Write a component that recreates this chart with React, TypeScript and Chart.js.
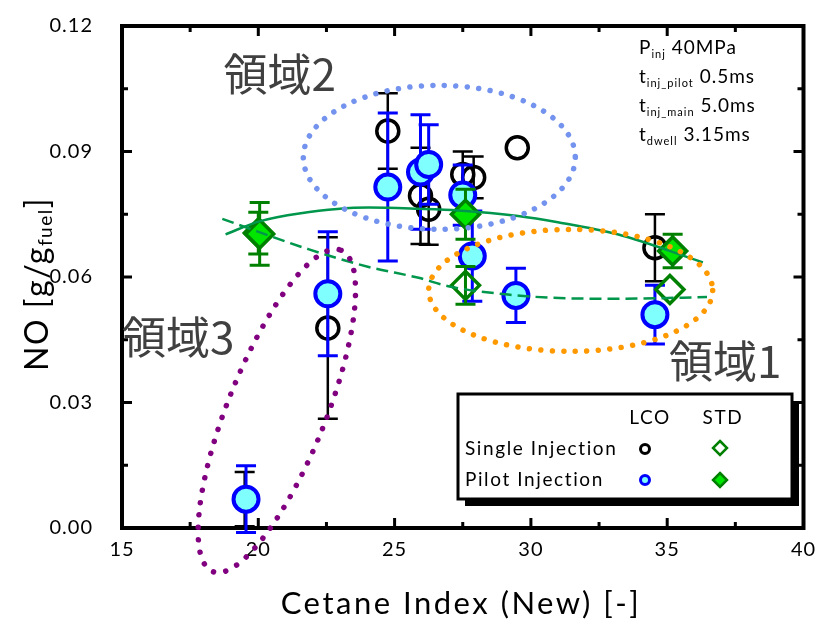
import React, { useEffect, useRef } from 'react';
import { Chart, registerables } from 'chart.js';

Chart.register(...registerables);

const FONT = 'Lato, "Open Sans", sans-serif';
const CJK = '"Noto Sans CJK JP", sans-serif';

// ---- Data ----
// Single Injection, LCO fuel (open black circles)
const singleLcoX = [19.5, 22.55, 24.75, 25.95, 26.25, 27.5, 27.9, 29.5, 34.55];
const singleLcoY = [0.0069, 0.0478, 0.0949, 0.0794, 0.0762, 0.0845, 0.0838, 0.0909, 0.067];
const singleLcoErr = [0.0065, 0.0217, 0.009, 0.0115, 0.0085, 0.0055, 0.005, 0, 0.008];

// Pilot Injection, LCO fuel (cyan circles, blue edge)
const pilotLcoX = [19.55, 22.55, 24.75, 25.95, 26.25, 27.5, 27.85, 29.45, 34.55];
const pilotLcoY = [0.0069, 0.056, 0.0815, 0.0851, 0.0869, 0.0796, 0.065, 0.0556, 0.051];
const pilotLcoErr = [0.008, 0.0148, 0.0177, 0.0137, 0.0095, 0.0072, 0.0108, 0.0065, 0.007];

// Single Injection, STD fuel (open green diamonds)
const singleStdX = [20.0, 27.6, 35.1];
const singleStdY = [0.0705, 0.058, 0.057];
const singleStdErr = [0.005, 0.0045, 0];

// Pilot Injection, STD fuel (filled green diamonds)
const pilotStdX = [20.05, 27.6, 35.2];
const pilotStdY = [0.0703, 0.075, 0.0662];
const pilotStdErr = [0.0075, 0.006, 0.004];

// Trend curves
const pilotTrendX = [18.8, 20.04, 21.5, 24.05, 25.88, 27.34, 29.53, 30.99, 33.18, 36.31];
const pilotTrendY = [0.0702, 0.0733, 0.0752, 0.0766, 0.0763, 0.0759, 0.0746, 0.0731, 0.0702, 0.0635];
const singleTrendX = [18.68, 19.96, 21.86, 24.05, 25.88, 26.97, 29.16, 31.35, 33.18, 36.46];
const singleTrendY = [0.0739, 0.0709, 0.0666, 0.0624, 0.0598, 0.0578, 0.0558, 0.0549, 0.0548, 0.0552];

// Axis ticks
const xMajorTicks = [15, 20, 25, 30, 35, 40];
const xMinorTicks = [17.5, 22.5, 27.5, 32.5, 37.5];
const yMajorTicks = [0, 0.03, 0.06, 0.09, 0.12];
const yMinorTicks = [0.015, 0.045, 0.075, 0.105];

// Region labels and ellipses (data coordinates)
const regionNames = ['領域1', '領域2', '領域3'];
const regionLabelX = [35.07, 18.72, 15.0];
const regionLabelY = [0.0398, 0.1085, 0.0457];
const ellipseCx = [31.46, 26.64, 20.68];
const ellipseCy = [0.0568, 0.0886, 0.028];

const pts = (xs: number[], ys: number[]) => xs.map((x, i) => ({ x, y: ys[i] }));

type Part = { t: string; size: number; dy?: number };
function drawRich(ctx: any, parts: Part[], x: number, y: number, center: boolean, spacing = 0) {
  ctx.letterSpacing = `${spacing}px`;
  let total = 0;
  parts.forEach((p) => {
    ctx.font = `${p.size}px ${FONT}`;
    total += ctx.measureText(p.t).width;
  });
  let cx = center ? x - total / 2 : x;
  ctx.textAlign = 'left';
  ctx.textBaseline = 'middle';
  parts.forEach((p) => {
    ctx.font = `${p.size}px ${FONT}`;
    ctx.fillText(p.t, cx, y + (p.dy || 0));
    cx += ctx.measureText(p.t).width;
  });
  ctx.letterSpacing = '0px';
}

const errorBarPlugin = {
  id: 'errorBars',
  beforeDatasetDraw(chart: any, args: any) {
    const ds = chart.data.datasets[args.index];
    if (!ds.errors) return;
    const { ctx } = chart;
    const xs = chart.scales.x;
    const ys = chart.scales.y;
    ctx.save();
    ctx.strokeStyle = ds.errorColor;
    ctx.lineWidth = ds.errorWidth;
    ds.data.forEach((p: any, i: number) => {
      const e = ds.errors[i];
      if (!e) return;
      const px = xs.getPixelForValue(p.x);
      const top = ys.getPixelForValue(p.y + e);
      const bot = ys.getPixelForValue(p.y - e);
      ctx.beginPath();
      ctx.moveTo(px, top);
      ctx.lineTo(px, bot);
      ctx.moveTo(px - 10, top);
      ctx.lineTo(px + 10, top);
      ctx.moveTo(px - 10, bot);
      ctx.lineTo(px + 10, bot);
      ctx.stroke();
    });
    ctx.restore();
  },
};

const framePlugin = {
  id: 'frame',
  beforeDraw(chart: any) {
    chart.ctx.letterSpacing = '1px';
  },
  beforeDatasetsDraw(chart: any) {
    const { ctx, chartArea: a } = chart;
    ctx.letterSpacing = '0px';
    const xs = chart.scales.x;
    const ys = chart.scales.y;
    ctx.save();
    ctx.strokeStyle = '#000';
    ctx.lineWidth = 4;
    ctx.strokeRect(a.left, a.top, a.right - a.left, a.bottom - a.top);
    ctx.lineWidth = 3;
    const tick = (vals: number[], len: number) => {
      vals.forEach((v) => {
        const px = xs.getPixelForValue(v);
        ctx.beginPath();
        ctx.moveTo(px, a.bottom);
        ctx.lineTo(px, a.bottom - len);
        ctx.moveTo(px, a.top);
        ctx.lineTo(px, a.top + len);
        ctx.stroke();
      });
    };
    const ytick = (vals: number[], len: number) => {
      vals.forEach((v) => {
        const py = ys.getPixelForValue(v);
        ctx.beginPath();
        ctx.moveTo(a.left, py);
        ctx.lineTo(a.left + len, py);
        ctx.moveTo(a.right, py);
        ctx.lineTo(a.right - len, py);
        ctx.stroke();
      });
    };
    tick(xMajorTicks, 10);
    tick(xMinorTicks, 6);
    ytick(yMajorTicks, 10);
    ytick(yMinorTicks, 6);
    ctx.restore();
  },
};

const overlayPlugin = {
  id: 'overlay',
  afterDatasetsDraw(chart: any) {
    const { ctx } = chart;
    const xs = chart.scales.x;
    const ys = chart.scales.y;
    // dotted ellipses: [rx px, ry px, rotation rad, color, gap]
    const styles: [number, number, number, string, number][] = [
      [142, 61, 0, '#FF9900', 11.5],
      [136, 72, 0, '#7393EE', 11.5],
      [173, 49, (-68.2 * Math.PI) / 180, '#800080', 12.5],
    ];
    ctx.save();
    styles.forEach((s, i) => {
      const cx = xs.getPixelForValue(ellipseCx[i]);
      const cy = ys.getPixelForValue(ellipseCy[i]);
      ctx.beginPath();
      ctx.ellipse(cx, cy, s[0], s[1], s[2], 0, Math.PI * 2);
      ctx.strokeStyle = s[3];
      ctx.lineWidth = 5.5;
      ctx.lineCap = 'round';
      ctx.setLineDash([0.01, s[4]]);
      ctx.stroke();
    });
    ctx.setLineDash([]);
    // region labels
    ctx.fillStyle = '#404040';
    ctx.font = `44px ${CJK}`;
    ctx.textAlign = 'left';
    ctx.textBaseline = 'middle';
    regionNames.forEach((n, i) => {
      ctx.fillText(n, xs.getPixelForValue(regionLabelX[i]), ys.getPixelForValue(regionLabelY[i]));
    });
    ctx.restore();
  },
  afterDraw(chart: any) {
    const { ctx } = chart;
    ctx.save();
    ctx.fillStyle = '#000';
    // condition text
    const lx = 639;
    drawRich(ctx, [{ t: 'P', size: 19 }, { t: 'inj', size: 11, dy: 6 }, { t: ' 40MPa', size: 19 }], lx, 48, false, 1);
    drawRich(ctx, [{ t: 't', size: 19 }, { t: 'inj_pilot', size: 11, dy: 6 }, { t: ' 0.5ms', size: 19 }], lx, 77, false, 1);
    drawRich(ctx, [{ t: 't', size: 19 }, { t: 'inj_main', size: 11, dy: 6 }, { t: ' 5.0ms', size: 19 }], lx, 106, false, 1);
    drawRich(ctx, [{ t: 't', size: 19 }, { t: 'dwell', size: 11, dy: 6 }, { t: ' 3.15ms', size: 19 }], lx, 135, false, 1);

    // axis titles
    drawRich(ctx, [{ t: 'Cetane Index (New) [-]', size: 31 }], 461, 604, true, 2.5);
    ctx.save();
    ctx.translate(38, 284);
    ctx.rotate(-Math.PI / 2);
    drawRich(ctx, [{ t: 'NO [g/g', size: 32 }, { t: 'fuel', size: 19, dy: 8 }, { t: ']', size: 32 }], 0, 0, true, 1.5);
    ctx.restore();

    // legend box
    const bx = 458, by = 394, bw = 334, bh = 105;
    ctx.fillStyle = '#000';
    ctx.fillRect(bx + 7, by + 7, bw, bh);
    ctx.fillStyle = '#fff';
    ctx.fillRect(bx, by, bw, bh);
    ctx.strokeStyle = '#000';
    ctx.lineWidth = 3;
    ctx.strokeRect(bx, by, bw, bh);
    ctx.fillStyle = '#000';
    ctx.font = `19px ${FONT}`;
    ctx.letterSpacing = '1.6px';
    ctx.textBaseline = 'middle';
    ctx.textAlign = 'center';
    ctx.fillText('LCO', 650, 418);
    ctx.fillText('STD', 723, 418);
    ctx.textAlign = 'left';
    ctx.fillText('Single Injection', 465, 449);
    ctx.fillText('Pilot Injection', 465, 480);
    ctx.letterSpacing = '0px';
    const circ = (x: number, y: number, fill: string | null, stroke: string) => {
      ctx.beginPath();
      ctx.arc(x, y, 4.5, 0, Math.PI * 2);
      if (fill) { ctx.fillStyle = fill; ctx.fill(); }
      ctx.strokeStyle = stroke;
      ctx.lineWidth = 3;
      ctx.stroke();
    };
    const dia = (x: number, y: number, fill: string | null) => {
      ctx.beginPath();
      ctx.moveTo(x, y - 7);
      ctx.lineTo(x + 7, y);
      ctx.lineTo(x, y + 7);
      ctx.lineTo(x - 7, y);
      ctx.closePath();
      if (fill) { ctx.fillStyle = fill; ctx.fill(); }
      ctx.strokeStyle = '#008000';
      ctx.lineWidth = 2.5;
      ctx.stroke();
    };
    circ(645, 449, null, '#000');
    circ(645, 480, '#80FFFF', '#0000FF');
    dia(720, 448, null);
    dia(720, 480, '#00E600');
    ctx.restore();
  },
};

export default function App() {
  const ref = useRef<HTMLCanvasElement>(null);
  useEffect(() => {
    document.body.style.margin = '0';
    if (!ref.current) return;
    const chart = new Chart(ref.current, {
      type: 'scatter',
      data: {
        datasets: [
          {
            label: 'STD Single fit',
            data: pts(singleTrendX, singleTrendY),
            showLine: true,
            pointRadius: 0,
            borderColor: '#00964B',
            borderWidth: 2.5,
            borderDash: [12, 6],
            cubicInterpolationMode: 'monotone',
            order: 0,
          },
          {
            label: 'STD Pilot fit',
            data: pts(pilotTrendX, pilotTrendY),
            showLine: true,
            pointRadius: 0,
            borderColor: '#00964B',
            borderWidth: 2.5,
            cubicInterpolationMode: 'monotone',
            order: 0,
          },
          {
            label: 'Pilot Injection STD',
            data: pts(pilotStdX, pilotStdY),
            pointStyle: 'rectRot',
            pointRadius: 14,
            pointBackgroundColor: '#00E600',
            pointBorderColor: '#008000',
            pointBorderWidth: 3.5,
            errors: pilotStdErr,
            errorColor: '#008000',
            errorWidth: 3,
            order: 1,
          } as any,
          {
            label: 'Single Injection STD',
            data: pts(singleStdX, singleStdY),
            pointStyle: 'rectRot',
            pointRadius: 14,
            pointBackgroundColor: 'rgba(0,0,0,0)',
            pointBorderColor: '#008000',
            pointBorderWidth: 3.5,
            errors: singleStdErr,
            errorColor: '#008000',
            errorWidth: 3,
            order: 2,
          } as any,
          {
            label: 'Pilot Injection LCO',
            data: pts(pilotLcoX, pilotLcoY),
            pointStyle: 'circle',
            pointRadius: 12.5,
            pointBackgroundColor: '#80FFFF',
            pointBorderColor: '#0000FF',
            pointBorderWidth: 4,
            errors: pilotLcoErr,
            errorColor: '#0000FF',
            errorWidth: 3,
            order: 3,
          } as any,
          {
            label: 'Single Injection LCO',
            data: pts(singleLcoX, singleLcoY),
            pointStyle: 'circle',
            pointRadius: 11,
            pointBackgroundColor: 'rgba(0,0,0,0)',
            pointBorderColor: '#000',
            pointBorderWidth: 3.5,
            errors: singleLcoErr,
            errorColor: '#000',
            errorWidth: 2.5,
            order: 4,
          } as any,
        ],
      },
      options: {
        animation: false,
        responsive: false,
        devicePixelRatio: 1,
        layout: { padding: { top: 26, right: 14, left: 0, bottom: 0 } },
        plugins: { legend: { display: false }, tooltip: { enabled: false } },
        scales: {
          x: {
            type: 'linear',
            min: 15,
            max: 40,
            afterFit: (s: any) => { s.height = 95; s.paddingLeft = 0; s.paddingRight = 0; },
            grid: { display: false, drawTicks: false },
            border: { display: false },
            ticks: { stepSize: 5, padding: 10, color: '#000', font: { family: FONT, size: 20 }, maxRotation: 0 },
          },
          y: {
            type: 'linear',
            min: 0,
            max: 0.12,
            afterFit: (s: any) => { s.width = 122; s.paddingTop = 0; s.paddingBottom = 0; },
            grid: { display: false, drawTicks: false },
            border: { display: false },
            ticks: {
              stepSize: 0.03,
              padding: 29,
              color: '#000',
              font: { family: FONT, size: 20 },
              callback: (v: any) => Number(v).toFixed(2),
            },
          },
        },
      },
      plugins: [errorBarPlugin, framePlugin, overlayPlugin],
    });
    return () => chart.destroy();
  }, []);
  return (
    <div style={{ width: 821, height: 623 }}>
      <canvas ref={ref} width={821} height={623} />
    </div>
  );
}
